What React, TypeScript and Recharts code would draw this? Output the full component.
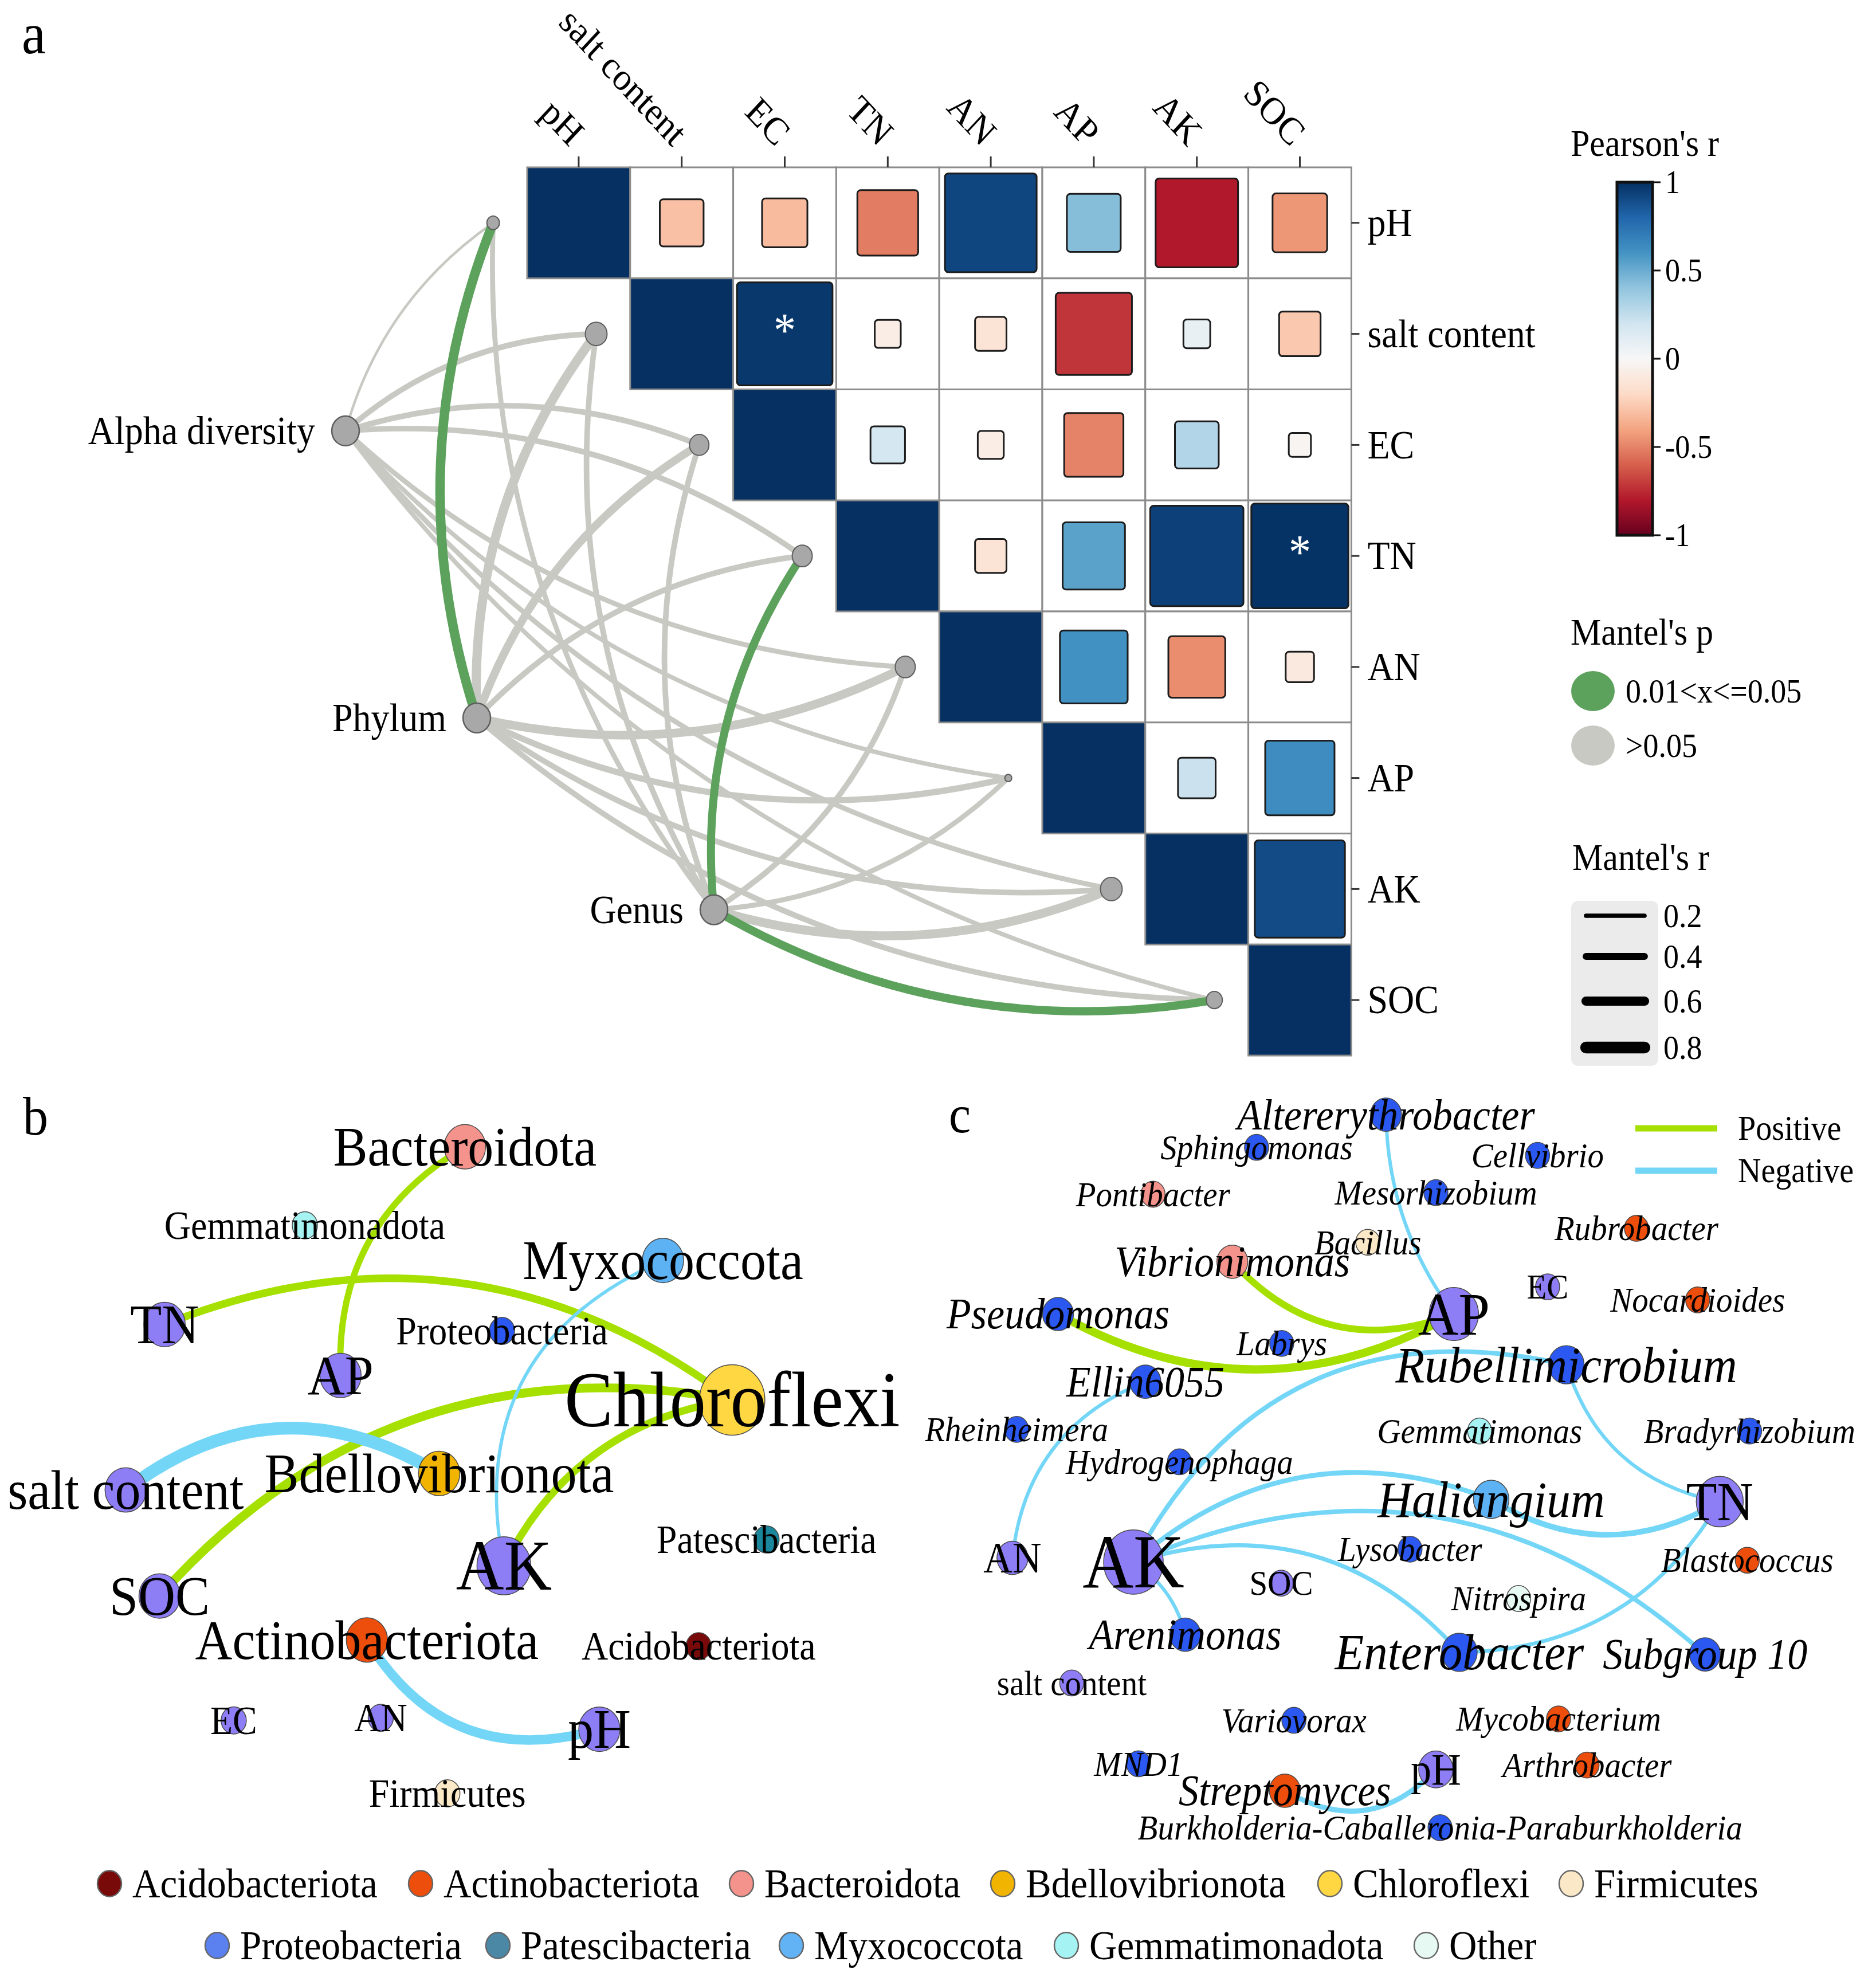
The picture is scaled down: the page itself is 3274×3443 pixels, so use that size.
import React from 'react';
import { ScatterChart, Scatter, XAxis, YAxis, ReferenceArea } from 'recharts';

const PAGE_W = 3274;
const PAGE_H = 3443;
const FONT = "'Liberation Serif', 'Times New Roman', Times, serif";
const SY = 1.078; // the original figure is slightly stretched vertically
const PX = 2.193; // pixels per layout unit for the two networks

/* ================= DATA : panel a ================= */
const ENV_VARS = ['pH', 'salt content', 'EC', 'TN', 'AN', 'AP', 'AK', 'SOC'];
const R_PH = [1, -0.3, -0.32, -0.52, 0.92, 0.43, -0.8, -0.44];
const R_SALT = [null, 1, 0.97, -0.07, -0.14, -0.72, 0.08, -0.27];
const R_EC = [null, null, 1, 0.18, -0.07, -0.5, 0.3, -0.02];
const R_TN = [null, null, null, 1, -0.14, 0.54, 0.94, 0.99];
const R_AN = [null, null, null, null, 1, 0.61, -0.47, -0.1];
const R_AP = [null, null, null, null, null, 1, 0.22, 0.63];
const R_AK = [null, null, null, null, null, null, 1, 0.9];
const R_SOC = [null, null, null, null, null, null, null, 1];
const PEARSON_ROWS: any[] = [R_PH, R_SALT, R_EC, R_TN, R_AN, R_AP, R_AK, R_SOC];
const PEARSON_SIG = ['salt content|EC', 'TN|SOC'];

const MANTEL_SPEC = ['Alpha diversity', 'Phylum', 'Genus'];
const MANTEL_R_ALPHA = [0.05, 0.3, 0.3, 0.3, 0.25, 0.2, 0.25, 0.2];
const MANTEL_R_PHYLUM = [0.62, 0.6, 0.5, 0.3, 0.55, 0.35, 0.3, 0.3];
const MANTEL_R_GENUS = [0.25, 0.3, 0.3, 0.5, 0.3, 0.25, 0.58, 0.52];
const MANTEL_P_ALPHA = [0.62, 0.31, 0.28, 0.22, 0.41, 0.47, 0.36, 0.44];
const MANTEL_P_PHYLUM = [0.03, 0.08, 0.12, 0.35, 0.09, 0.27, 0.33, 0.3];
const MANTEL_P_GENUS = [0.4, 0.29, 0.26, 0.04, 0.31, 0.45, 0.07, 0.03];
const MANTEL_R = [MANTEL_R_ALPHA, MANTEL_R_PHYLUM, MANTEL_R_GENUS];
const MANTEL_P = [MANTEL_P_ALPHA, MANTEL_P_PHYLUM, MANTEL_P_GENUS];

/* ================= DATA : panel b (phylum network) ================= */
const PHYLUM_NODES = [
  { name: 'Bacteroidota', group: 'Bacteroidota', x: 370, y: 912.5, cls: 2 },
  { name: 'Gemmatimonadota', group: 'Gemmatimonadota', x: 242.6, y: 975, cls: 1 },
  { name: 'Myxococcota', group: 'Myxococcota', x: 527.6, y: 1003, cls: 2 },
  { name: 'TN', group: 'env', x: 131, y: 1054, cls: 2 },
  { name: 'Proteobacteria', group: 'Proteobacteria', x: 399.5, y: 1059, cls: 1 },
  { name: 'AP', group: 'env', x: 271, y: 1094.5, cls: 2 },
  { name: 'Chloroflexi', group: 'Chloroflexi', x: 582.7, y: 1114, cls: 4 },
  { name: 'salt content', group: 'env', x: 100, y: 1185.6, cls: 2 },
  { name: 'Bdellovibrionota', group: 'Bdellovibrionota', x: 349.5, y: 1172.5, cls: 2 },
  { name: 'Patescibacteria', group: 'Patescibacteria', x: 610, y: 1225, cls: 1 },
  { name: 'AK', group: 'env', x: 401, y: 1246, cls: 3 },
  { name: 'SOC', group: 'env', x: 127, y: 1270, cls: 2 },
  { name: 'Actinobacteriota', group: 'Actinobacteriota', x: 292, y: 1305, cls: 2 },
  { name: 'Acidobacteriota', group: 'Acidobacteriota', x: 556, y: 1310, cls: 1 },
  { name: 'EC', group: 'env', x: 186, y: 1369, cls: 1 },
  { name: 'AN', group: 'env', x: 303, y: 1367, cls: 1 },
  { name: 'pH', group: 'env', x: 477, y: 1376, cls: 2 },
  { name: 'Firmicutes', group: 'Firmicutes', x: 356, y: 1427, cls: 1 },
];
const PHYLUM_EDGES = [
  { from: 'TN', to: 'Chloroflexi', sign: 1, w: 6 },
  { from: 'AP', to: 'Bacteroidota', sign: 1, w: 5 },
  { from: 'SOC', to: 'Chloroflexi', sign: 1, w: 7 },
  { from: 'AK', to: 'Chloroflexi', sign: 1, w: 6 },
  { from: 'salt content', to: 'Bdellovibrionota', sign: -1, w: 10 },
  { from: 'AK', to: 'Myxococcota', sign: -1, w: 2.6 },
  { from: 'Actinobacteriota', to: 'pH', sign: -1, w: 7.5 },
];
const PHYLUM_EDGE_BEND = [0.14, 0.15, 0.14, 0.13, 0.17, 0.2, -0.19];

/* ================= DATA : panel c (genus network) ================= */
const GENUS_NODES = [
  { name: 'Altererythrobacter', group: 'Proteobacteria', x: 1103, y: 887, cls: 'g2' },
  { name: 'Sphingomonas', group: 'Proteobacteria', x: 1000, y: 913, cls: 'g1' },
  { name: 'Cellvibrio', group: 'Proteobacteria', x: 1223.6, y: 919.4, cls: 'g1' },
  { name: 'Pontibacter', group: 'Bacteroidota', x: 917.6, y: 950.3, cls: 'g1' },
  { name: 'Mesorhizobium', group: 'Proteobacteria', x: 1142.7, y: 949, cls: 'g1' },
  { name: 'Rubrobacter', group: 'Actinobacteriota', x: 1302.3, y: 977.4, cls: 'g1' },
  { name: 'Bacillus', group: 'Firmicutes', x: 1088.5, y: 988.5, cls: 'g1' },
  { name: 'Vibrionimonas', group: 'Bacteroidota', x: 980.7, y: 1004, cls: 'g2' },
  { name: 'EC', group: 'env', x: 1231.6, y: 1024, cls: 'e1' },
  { name: 'Nocardioides', group: 'Actinobacteriota', x: 1351, y: 1034.4, cls: 'g1' },
  { name: 'Pseudomonas', group: 'Proteobacteria', x: 842, y: 1045.6, cls: 'g2' },
  { name: 'AP', group: 'env', x: 1157, y: 1045.6, cls: 'eAP' },
  { name: 'Labrys', group: 'Proteobacteria', x: 1020, y: 1069, cls: 'g1' },
  { name: 'Rubellimicrobium', group: 'Proteobacteria', x: 1246.5, y: 1086, cls: 'g3' },
  { name: 'Ellin6055', group: 'Proteobacteria', x: 911.5, y: 1099.5, cls: 'g2' },
  { name: 'Rheinheimera', group: 'Proteobacteria', x: 809, y: 1137.4, cls: 'g1' },
  { name: 'Gemmatimonas', group: 'Gemmatimonadota', x: 1177.5, y: 1138.7, cls: 'g1' },
  { name: 'Bradyrhizobium', group: 'Proteobacteria', x: 1392.3, y: 1138.7, cls: 'g1' },
  { name: 'Hydrogenophaga', group: 'Proteobacteria', x: 938.6, y: 1163.2, cls: 'g1' },
  { name: 'Haliangium', group: 'Myxococcota', x: 1186.7, y: 1193.1, cls: 'g3' },
  { name: 'TN', group: 'env', x: 1368.6, y: 1194.9, cls: 'eTN' },
  { name: 'AN', group: 'env', x: 805.7, y: 1239.7, cls: 'eAN' },
  { name: 'AK', group: 'env', x: 902, y: 1243, cls: 'eAK' },
  { name: 'Lysobacter', group: 'Proteobacteria', x: 1122.1, y: 1232.7, cls: 'g1' },
  { name: 'Blastococcus', group: 'Actinobacteriota', x: 1390.5, y: 1241.5, cls: 'g1' },
  { name: 'SOC', group: 'env', x: 1019.6, y: 1259.8, cls: 'e1' },
  { name: 'Nitrospira', group: 'Other', x: 1208.5, y: 1272, cls: 'g1' },
  { name: 'Arenimonas', group: 'Proteobacteria', x: 943.2, y: 1300.8, cls: 'g2' },
  { name: 'Enterobacter', group: 'Proteobacteria', x: 1161.4, y: 1314.8, cls: 'g3' },
  { name: 'Subgroup 10', group: 'Proteobacteria', x: 1356.9, y: 1316.5, cls: 'g2' },
  { name: 'salt content', group: 'env', x: 852.9, y: 1339.2, cls: 'e1' },
  { name: 'Variovorax', group: 'Proteobacteria', x: 1029.7, y: 1368.9, cls: 'g1' },
  { name: 'Mycobacterium', group: 'Actinobacteriota', x: 1240.3, y: 1367.8, cls: 'g1' },
  { name: 'MND1', group: 'Proteobacteria', x: 906, y: 1403.5, cls: 'g1' },
  { name: 'pH', group: 'env', x: 1142.7, y: 1408, cls: 'ePH' },
  { name: 'Arthrobacter', group: 'Actinobacteriota', x: 1263, y: 1404.5, cls: 'g1' },
  { name: 'Streptomyces', group: 'Actinobacteriota', x: 1022.5, y: 1424.9, cls: 'g2' },
  { name: 'Burkholderia-Caballeronia-Paraburkholderia', group: 'Proteobacteria', x: 1146, y: 1454.4, cls: 'g1' },
];
const GENUS_EDGES = [
  { from: 'Vibrionimonas', to: 'AP', sign: 1, w: 5.3 },
  { from: 'Pseudomonas', to: 'AP', sign: 1, w: 6.5 },
  { from: 'Altererythrobacter', to: 'AP', sign: -1, w: 2.8 },
  { from: 'AN', to: 'Ellin6055', sign: -1, w: 2.8 },
  { from: 'AK', to: 'Rubellimicrobium', sign: -1, w: 3.6 },
  { from: 'Rubellimicrobium', to: 'TN', sign: -1, w: 2.8 },
  { from: 'AK', to: 'Haliangium', sign: -1, w: 3.9 },
  { from: 'Haliangium', to: 'TN', sign: -1, w: 4.5 },
  { from: 'AK', to: 'Subgroup 10', sign: -1, w: 3.6 },
  { from: 'AK', to: 'Enterobacter', sign: -1, w: 3.3 },
  { from: 'Enterobacter', to: 'TN', sign: -1, w: 3.0 },
  { from: 'AK', to: 'Arenimonas', sign: -1, w: 2.8 },
  { from: 'Streptomyces', to: 'pH', sign: -1, w: 4.0 },
];
const GENUS_EDGE_BEND = [-0.17, -0.14, -0.08, 0.15, 0.19, -0.15, 0.15, -0.15, 0.16, 0.16, -0.14, 0.1, -0.2];

/* ================= legend ================= */
const LEGEND_ROW1 = ['Acidobacteriota', 'Actinobacteriota', 'Bacteroidota', 'Bdellovibrionota', 'Chloroflexi', 'Firmicutes'];
const LEGEND_ROW2 = ['Proteobacteria', 'Patescibacteria', 'Myxococcota', 'Gemmatimonadota', 'Other'];
const PEARSON_TICKS = ['1', '0.5', '0', '-0.5', '-1'];
const MANTEL_P_LEVELS = ['0.01<x<=0.05', '>0.05'];
const MANTEL_R_LEVELS = [0.2, 0.4, 0.6, 0.8];

/* ================= styles ================= */
const RDBU = ['#67001f', '#b2182b', '#d6604d', '#f4a582', '#fddbc7', '#f7f7f7', '#d1e5f0', '#92c5de', '#4393c3', '#2166ac', '#053061'];
const GROUP_COLOR: any = {
  Acidobacteriota: '#780a0a',
  Actinobacteriota: '#ee4e0c',
  Bacteroidota: '#f4938b',
  Bdellovibrionota: '#f1b400',
  Chloroflexi: '#ffd743',
  Firmicutes: '#fbe8c6',
  Proteobacteria: '#2b58f1',
  Patescibacteria: '#1a879c',
  Myxococcota: '#5cb2f3',
  Gemmatimonadota: '#a6f3f3',
  Other: '#e6f9f3',
  env: '#8d7ef6',
};
const LEGEND_COLOR: any = { ...GROUP_COLOR, Proteobacteria: '#5b80f0', Patescibacteria: '#4a88a6', Myxococcota: '#62b2f6' };
const POS_COLOR = '#a6e000';
const NEG_COLOR = '#74d6f7';
const M_GREEN = '#5ca15c';
const M_GRAY = '#c9c9c4';

const B_STYLE: any = { 1: { r: 22, fs: 64 }, 2: { r: 36, fs: 90 }, 3: { r: 47, fs: 116 }, 4: { r: 57, fs: 127 } };
const C_STYLE: any = {
  g1: { r: 21, fs: 57 }, g2: { r: 27, fs: 70 }, g3: { r: 31, fs: 83 },
  e1: { r: 21, fs: 57 }, eAN: { r: 27, fs: 70 }, ePH: { r: 30, fs: 72 },
  eTN: { r: 41, fs: 88 }, eAP: { r: 43, fs: 98 }, eAK: { r: 52, fs: 123 },
};
const ENV_DOT_R = [11, 19, 17, 17.5, 17.5, 6, 19, 14];
const SPEC_LAYOUT = [{ x: -1.763, y: 2.374 }, { x: -0.489, y: 4.959 }, { x: 1.813, y: 6.687 }];
const ENV_ANCHOR_DX = -0.33;

const GRID_LEFT = 920;
const GRID_TOP = 292;
const CELL_W = 179.8;
const CELL_H = 193.75;
const A_H = 1900;

/* ================= helpers ================= */
function hexToRgb(h: string) {
  const v = parseInt(h.slice(1), 16);
  return [(v >> 16) & 255, (v >> 8) & 255, v & 255];
}
function rdbu(r: number) {
  const t = ((Math.max(-1, Math.min(1, r)) + 1) / 2) * (RDBU.length - 1);
  const i = Math.min(RDBU.length - 2, Math.floor(t));
  const f = t - i;
  const a = hexToRgb(RDBU[i]);
  const b = hexToRgb(RDBU[i + 1]);
  const c = a.map((v, k) => Math.round(v + (b[k] - v) * f));
  return `rgb(${c[0]},${c[1]},${c[2]})`;
}
const mantelWidth = (r: number) => 3.5 + 21 * r;

const SText = (p: any) => (
  <text
    transform={`translate(${p.x},${p.y}) scale(1,${SY})${p.rotate ? ` rotate(${p.rotate})` : ''}`}
    fontSize={p.fs}
    fontFamily={FONT}
    textAnchor={p.anchor || 'start'}
    dominantBaseline={p.baseline}
    fontStyle={p.italic ? 'italic' : 'normal'}
    fill={p.fill || '#000'}
  >
    {p.children}
  </text>
);

const NoShape = () => <g />;

const curveLine = (bend: number, stroke: string, width: number) => (props: any) => {
  const pts = props.points;
  if (!pts || pts.length < 2) return <g />;
  const a = pts[0];
  const b = pts[1];
  const dx = b.x - a.x;
  const dy = b.y - a.y;
  const cx = (a.x + b.x) / 2 + 2 * bend * dy;
  const cy = (a.y + b.y) / 2 - 2 * bend * dx;
  return <path d={`M${a.x},${a.y} Q${cx},${cy} ${b.x},${b.y}`} fill="none" stroke={stroke} strokeWidth={width} strokeLinecap="butt" />;
};

/* ================= panel a ================= */
function PanelA() {
  const cells: any[] = [];
  PEARSON_ROWS.forEach((row: any[], i: number) =>
    row.forEach((r: any, j: number) => {
      if (r !== null) cells.push({ i, j, r, sig: PEARSON_SIG.includes(`${ENV_VARS[i]}|${ENV_VARS[j]}`) });
    })
  );
  const edges: any[] = [];
  MANTEL_SPEC.forEach((s, si) =>
    ENV_VARS.forEach((e, ei) => edges.push({ si, ei, r: MANTEL_R[si][ei], p: MANTEL_P[si][ei] }))
  );
  edges.sort((a, b) => (a.p <= 0.05 ? 1 : 0) - (b.p <= 0.05 ? 1 : 0));
  const targets = ENV_VARS.map((name, i) => ({ name, idx: i, x: i + ENV_ANCHOR_DX, y: i + 0.5 }));
  const sources = MANTEL_SPEC.map((name, i) => ({ name, x: SPEC_LAYOUT[i].x, y: SPEC_LAYOUT[i].y }));
  const xmin = -GRID_LEFT / CELL_W;
  const gridRight = GRID_LEFT + 8 * CELL_W;
  const margin = { top: GRID_TOP - 1, right: PAGE_W - gridRight - 1, bottom: A_H - (GRID_TOP + 8 * CELL_H), left: 0 };
  const ticks = ENV_VARS.map((_, i) => i + 0.5);

  const TopTick = (p: any) => {
    const label = ENV_VARS[Math.round(p.payload.value - 0.5)];
    return <SText x={p.x - 16} y={p.y - 13} fs={62} anchor="end" rotate={45}>{label}</SText>;
  };
  const RightTick = (p: any) => {
    const label = ENV_VARS[Math.round(p.payload.value - 0.5)];
    return <SText x={p.x} y={p.y} fs={64} anchor="start" baseline="central">{label}</SText>;
  };

  return (
    <div style={{ position: 'absolute', left: 0, top: 0, width: PAGE_W, height: A_H }}>
      <ScatterChart width={PAGE_W} height={A_H} margin={margin} style={{ overflow: 'visible' }}>
        <XAxis
          orientation="top" type="number" dataKey="x" domain={[xmin, 8]} ticks={ticks} interval={0}
          height={1} tickSize={19} tickMargin={2} axisLine={false}
          tickLine={{ stroke: '#333', strokeWidth: 3 }} tick={(p: any) => <TopTick {...p} />}
        />
        <YAxis
          orientation="right" type="number" dataKey="y" domain={[0, 8]} reversed ticks={ticks} interval={0}
          width={1} tickSize={14} tickMargin={14} axisLine={false}
          tickLine={{ stroke: '#333', strokeWidth: 3 }} tick={(p: any) => <RightTick {...p} />}
        />
        {cells.map((c) => (
          <ReferenceArea
            key={`bg-${c.i}-${c.j}`} x1={c.j} x2={c.j + 1} y1={c.i} y2={c.i + 1} ifOverflow="visible"
            shape={(p: any) => (
              <rect x={p.x} y={p.y} width={p.width} height={p.height} fill={c.i === c.j ? rdbu(1) : '#ffffff'} stroke="#8c8c8c" strokeWidth={3} />
            )}
          />
        ))}
        {cells.filter((c) => c.i !== c.j).map((c) => {
          const s = 0.2 + 0.75 * Math.abs(c.r);
          const mx = c.j + 0.5;
          const my = c.i + 0.5;
          return (
            <ReferenceArea
              key={`sq-${c.i}-${c.j}`} x1={mx - s / 2} x2={mx + s / 2} y1={my - s / 2} y2={my + s / 2} ifOverflow="visible"
              shape={(p: any) => (
                <g>
                  <rect x={p.x} y={p.y} width={p.width} height={p.height} rx={6} ry={6} fill={rdbu(c.r)} stroke="#1c1c1c" strokeWidth={3} />
                  {c.sig ? (
                    <SText x={p.x + p.width / 2} y={p.y + p.height / 2 + 22} fs={78} anchor="middle" fill="#ffffff">*</SText>
                  ) : null}
                </g>
              )}
            />
          );
        })}
        {edges.map((e) => (
          <Scatter
            key={`me-${e.si}-${e.ei}`}
            data={[{ x: sources[e.si].x, y: sources[e.si].y }, { x: targets[e.ei].x, y: targets[e.ei].y }]}
            line={curveLine(e.ei < 4 ? 0.09 : -0.09, e.p <= 0.05 && e.p > 0.01 ? M_GREEN : M_GRAY, mantelWidth(e.r))}
            shape={NoShape}
            isAnimationActive={false}
          />
        ))}
        <Scatter
          data={targets} isAnimationActive={false}
          shape={(p: any) => {
            const d = p.payload || p;
            const r = ENV_DOT_R[d.idx];
            return <ellipse cx={p.cx} cy={p.cy} rx={r} ry={r * SY} fill="#a8a8a8" stroke="#5e5e5e" strokeWidth={2} />;
          }}
        />
        <Scatter
          data={sources} isAnimationActive={false}
          shape={(p: any) => {
            const d = p.payload || p;
            return (
              <g>
                <ellipse cx={p.cx} cy={p.cy} rx={24} ry={24 * SY} fill="#a8a8a8" stroke="#5e5e5e" strokeWidth={2.5} />
                <SText x={p.cx - 53} y={p.cy} fs={64} anchor="end" baseline="central">{d.name}</SText>
              </g>
            );
          }}
        />
      </ScatterChart>
    </div>
  );
}

/* ================= networks ================= */
function Network(props: any) {
  const { left, top, width, height, nodes, edges, bends, styles, italicTaxa } = props;
  const byName: any = {};
  nodes.forEach((n: any) => { byName[n.name] = n; });
  const xd = [left / PX, (left + width) / PX];
  const yd = [top / PX, (top + height) / PX];
  return (
    <div style={{ position: 'absolute', left, top, width, height }}>
      <ScatterChart width={width} height={height} margin={{ top: 0, right: 0, bottom: 0, left: 0 }} style={{ overflow: 'visible' }}>
        <XAxis type="number" dataKey="x" domain={xd} hide />
        <YAxis type="number" dataKey="y" domain={yd} reversed hide />
        {edges.map((e: any, i: number) => {
          const a = byName[e.from];
          const b = byName[e.to];
          return (
            <Scatter
              key={`ne-${i}`}
              data={[{ x: a.x, y: a.y }, { x: b.x, y: b.y }]}
              line={curveLine(bends[i], e.sign > 0 ? POS_COLOR : NEG_COLOR, e.w * PX)}
              shape={NoShape}
              isAnimationActive={false}
            />
          );
        })}
        <Scatter
          data={nodes} isAnimationActive={false}
          shape={(p: any) => {
            const d = p.payload || p;
            const st = styles[d.cls];
            return <ellipse cx={p.cx} cy={p.cy} rx={st.r} ry={st.r * SY} fill={GROUP_COLOR[d.group]} stroke="#4a4a4a" strokeWidth={1.5} />;
          }}
        />
        <Scatter
          data={nodes} isAnimationActive={false}
          shape={(p: any) => {
            const d = p.payload || p;
            const st = styles[d.cls];
            return (
              <SText x={p.cx} y={p.cy} fs={st.fs} anchor="middle" baseline="central" italic={italicTaxa && d.group !== 'env'}>
                {d.name}
              </SText>
            );
          }}
        />
      </ScatterChart>
    </div>
  );
}

/* ================= legends / labels ================= */
function Overlay() {
  const cbX = 2822, cbY = 318, cbW = 62, cbH = 616;
  const row1X = [191, 734, 1294, 1750, 2321, 2742];
  const row2X = [379, 869, 1381, 1861, 2489];
  const mrY = [1598, 1669, 1747, 1828];
  return (
    <svg width={PAGE_W} height={PAGE_H} style={{ position: 'absolute', left: 0, top: 0, pointerEvents: 'none' }}>
      <defs>
        <linearGradient id="rdbuGrad" x1="0" y1="1" x2="0" y2="0">
          {RDBU.map((c, i) => <stop key={i} offset={i / (RDBU.length - 1)} stopColor={c} />)}
        </linearGradient>
      </defs>
      <SText x={38} y={93} fs={94}>a</SText>
      <SText x={40} y={1980} fs={88}>b</SText>
      <SText x={1656} y={1976} fs={86}>c</SText>

      {/* Pearson's r */}
      <SText x={2741} y={272} fs={60}>Pearson's r</SText>
      <rect x={cbX} y={cbY} width={cbW} height={cbH} fill="url(#rdbuGrad)" stroke="#111" strokeWidth={5} />
      {PEARSON_TICKS.map((t, i) => {
        const y = cbY + (i * cbH) / (PEARSON_TICKS.length - 1);
        return (
          <g key={t}>
            <line x1={cbX + cbW} x2={cbX + cbW + 14} y1={y} y2={y} stroke="#111" strokeWidth={3} />
            <SText x={cbX + cbW + 22} y={y} fs={52} baseline="central">{t}</SText>
          </g>
        );
      })}

      {/* Mantel's p */}
      <SText x={2741} y={1125} fs={60}>Mantel's p</SText>
      {MANTEL_P_LEVELS.map((t, i) => (
        <g key={t}>
          <ellipse cx={2780} cy={1206 + i * 95} rx={38} ry={35} fill={i === 0 ? M_GREEN : M_GRAY} />
          <SText x={2837} y={1206 + i * 95} fs={54} baseline="central">{t}</SText>
        </g>
      ))}

      {/* Mantel's r */}
      <SText x={2744} y={1518} fs={60}>Mantel's r</SText>
      <rect x={2742} y={1572} width={152} height={288} rx={12} ry={12} fill="#ebebeb" />
      {MANTEL_R_LEVELS.map((r, i) => (
        <g key={r}>
          <line x1={2768} x2={2870} y1={mrY[i]} y2={mrY[i]} stroke="#000" strokeWidth={mantelWidth(r)} strokeLinecap="round" />
          <SText x={2903} y={mrY[i]} fs={54} baseline="central">{r.toFixed(1)}</SText>
        </g>
      ))}

      {/* Positive / Negative */}
      <line x1={2854} x2={2997} y1={1969} y2={1969} stroke={POS_COLOR} strokeWidth={11} />
      <SText x={3033} y={1969} fs={56} baseline="central">Positive</SText>
      <line x1={2854} x2={2997} y1={2043} y2={2043} stroke={NEG_COLOR} strokeWidth={11} />
      <SText x={3033} y={2043} fs={56} baseline="central">Negative</SText>

      {/* group legend */}
      {LEGEND_ROW1.map((g, i) => (
        <g key={g}>
          <ellipse cx={row1X[i]} cy={3287} rx={21} ry={21 * SY} fill={LEGEND_COLOR[g]} stroke="#666" strokeWidth={2.5} />
          <SText x={row1X[i] + 40} y={3287} fs={67} baseline="central">{g}</SText>
        </g>
      ))}
      {LEGEND_ROW2.map((g, i) => (
        <g key={g}>
          <ellipse cx={row2X[i]} cy={3395} rx={21} ry={21 * SY} fill={LEGEND_COLOR[g]} stroke="#666" strokeWidth={2.5} />
          <SText x={row2X[i] + 40} y={3395} fs={67} baseline="central">{g}</SText>
        </g>
      ))}
    </svg>
  );
}

export default function App() {
  return (
    <div style={{ position: 'absolute', left: 0, top: 0, width: PAGE_W, height: PAGE_H, background: '#ffffff', fontFamily: FONT, overflow: 'hidden' }}>
      <PanelA />
      <Network left={0} top={1880} width={1700} height={1310} nodes={PHYLUM_NODES} edges={PHYLUM_EDGES} bends={PHYLUM_EDGE_BEND} styles={B_STYLE} italicTaxa={false} />
      <Network left={1535} top={1880} width={1739} height={1370} nodes={GENUS_NODES} edges={GENUS_EDGES} bends={GENUS_EDGE_BEND} styles={C_STYLE} italicTaxa={true} />
      <Overlay />
    </div>
  );
}
